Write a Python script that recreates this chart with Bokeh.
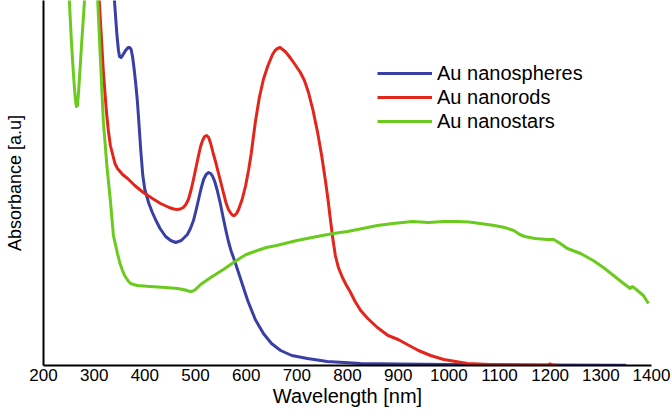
from bokeh.plotting import figure
from bokeh.models import Range1d, FixedTicker, Legend, LegendItem
from bokeh.embed import file_html
from bokeh.resources import INLINE

# Wavelength (nm) and absorbance (a.u.)
spheres_nm = [335, 340, 345, 348, 350, 353, 356, 362, 367, 370, 373, 376, 379, 382, 385, 388, 392,
              396, 400, 408, 414, 421, 430, 441, 451, 461, 472, 484, 490, 496, 501, 506, 511, 516,
              521, 526, 530, 534, 538, 543, 549, 555, 560, 565, 570, 579, 590, 603, 618, 634, 650,
              668, 690, 721, 760, 826, 900, 1000, 1100, 1200, 1350]
spheres_abs = [4.0, 3.65, 3.3, 3.15, 3.09, 3.08, 3.1, 3.15, 3.18, 3.18, 3.16, 3.08, 2.96, 2.82,
               2.66, 2.45, 2.15, 1.9, 1.76, 1.62, 1.54, 1.46, 1.37, 1.29, 1.25, 1.23, 1.25, 1.31,
               1.37, 1.45, 1.55, 1.66, 1.77, 1.86, 1.91, 1.93, 1.92, 1.89, 1.84, 1.75, 1.62, 1.47,
               1.35, 1.24, 1.15, 1.02, 0.85, 0.65, 0.46, 0.32, 0.22, 0.15, 0.1, 0.07, 0.04, 0.02,
               0.015, 0.01, 0.007, 0.005, 0.003]

rods_nm = [305, 310, 318, 324, 328, 332, 336, 341, 346, 356, 366, 380, 397, 415, 431, 448, 457, 464,
           470, 476, 481, 486, 491, 496, 501, 506, 510, 514, 518, 522, 526, 530, 535, 540, 545, 550,
           555, 560, 565, 570, 574, 577, 581, 585, 592, 599, 605, 610, 618, 626, 634, 643, 652, 657,
           662, 667, 672, 677, 682, 688, 695, 707, 715, 723, 732, 741, 749, 757, 762, 766, 771, 776,
           782, 790, 797, 805, 815, 826, 840, 859, 880, 900, 918, 940, 964, 990, 1037, 1080, 1116,
           1150, 1195, 1200, 1205, 1215]
rods_abs = [4.0, 3.65, 2.95, 2.55, 2.35, 2.2, 2.12, 2.02, 1.97, 1.91, 1.87, 1.8, 1.73, 1.67, 1.62,
            1.58, 1.565, 1.56, 1.565, 1.58, 1.61, 1.66, 1.75, 1.86, 1.98, 2.1, 2.19, 2.25, 2.29,
            2.3, 2.28, 2.22, 2.12, 2.03, 1.93, 1.83, 1.73, 1.63, 1.56, 1.52, 1.5, 1.5, 1.52, 1.56,
            1.66, 1.8, 1.96, 2.12, 2.43, 2.68, 2.86, 3.0, 3.11, 3.15, 3.17, 3.18, 3.16, 3.14, 3.11,
            3.07, 3.02, 2.93, 2.85, 2.73, 2.55, 2.33, 2.1, 1.83, 1.64, 1.47, 1.27, 1.1, 0.98, 0.88,
            0.81, 0.74, 0.64, 0.55, 0.47, 0.38, 0.3, 0.26, 0.21, 0.15, 0.1, 0.06, 0.02, 0.01, 0.005,
            0.003, 0.004, 0.015, 0.004, 0.003]

stars_nm = [246, 251, 255, 258, 261, 263, 265, 267, 269, 272, 275, 281, 290, 300, 307, 312, 318, 325,
            332, 338, 346, 351, 356, 360, 364, 368, 372, 378, 385, 410, 441, 465, 480, 486, 490, 495,
            500, 510, 530, 555, 575, 590, 600, 611, 622, 640, 660, 700, 740, 772, 800, 830, 859, 890,
            928, 960, 990, 1017, 1040, 1062, 1090, 1110, 1128, 1140, 1150, 1170, 1195, 1207, 1220,
            1234, 1260, 1285, 1305, 1325, 1345, 1358, 1362, 1370, 1384, 1394]
stars_abs = [4.2, 3.65, 3.25, 3.0, 2.78, 2.66, 2.59, 2.6, 2.72, 2.95, 3.2, 3.65, 4.3, 4.2, 3.65,
             3.1, 2.45, 2.0, 1.65, 1.3, 1.12, 1.02, 0.95, 0.9, 0.87, 0.84, 0.82, 0.81, 0.8, 0.79,
             0.78, 0.77, 0.755, 0.745, 0.74, 0.745, 0.76, 0.81, 0.88, 0.96, 1.03, 1.08, 1.11, 1.13,
             1.15, 1.18, 1.2, 1.25, 1.29, 1.32, 1.34, 1.37, 1.4, 1.42, 1.44, 1.43, 1.44, 1.44, 1.435,
             1.42, 1.4, 1.38, 1.35, 1.31, 1.29, 1.27, 1.26, 1.26, 1.22, 1.17, 1.12, 1.05, 0.98, 0.9,
             0.82, 0.77, 0.79, 0.76, 0.7, 0.62]

x_ticks = [200, 300, 400, 500, 600, 700, 800, 900, 1000, 1100, 1200, 1300, 1400]
series_names = ["Au nanospheres", "Au nanorods", "Au nanostars"]

FONT = "Liberation Sans"

p = figure(frame_width=608, frame_height=365, output_backend="svg", toolbar_location=None,
           x_range=Range1d(200, 1400), y_range=Range1d(0, 3.65),
           min_border_left=43, min_border_top=0, min_border_right=21, min_border_bottom=0)
p.outline_line_color = None
p.xgrid.visible = False
p.ygrid.visible = False
p.background_fill_color = "white"

blue = "#3a3fa6"
red = "#e3261c"
green = "#6acb1e"

r1 = p.line(spheres_nm, spheres_abs, line_color=blue, line_width=3, line_join="round")
r2 = p.line(rods_nm, rods_abs, line_color=red, line_width=3, line_join="round")
r3 = p.line(stars_nm, stars_abs, line_color=green, line_width=3, line_join="round")

# x axis
p.xaxis.ticker = FixedTicker(ticks=x_ticks)
p.xaxis.axis_label = "Wavelength [nm]"
p.xaxis.axis_line_color = "black"
p.xaxis.axis_line_width = 2
p.xaxis.major_tick_line_color = None
p.xaxis.minor_tick_line_color = None
p.xaxis.major_tick_out = 0
p.xaxis.major_tick_in = 0
p.xaxis.major_label_standoff = 3
p.xaxis.major_label_text_font = FONT
p.xaxis.major_label_text_font_size = "17px"
p.xaxis.major_label_text_color = "black"
p.xaxis.axis_label_text_font = FONT
p.xaxis.axis_label_text_font_size = "20px"
p.xaxis.axis_label_text_font_style = "normal"
p.xaxis.axis_label_text_color = "black"
p.xaxis.axis_label_standoff = 1

# y axis
p.yaxis.ticker = FixedTicker(ticks=[])
p.yaxis.axis_label = "Absorbance [a.u]"
p.yaxis.axis_line_color = "black"
p.yaxis.axis_line_width = 2
p.yaxis.major_tick_line_color = None
p.yaxis.minor_tick_line_color = None
p.yaxis.major_tick_out = 0
p.yaxis.major_label_text_font_size = "0px"
p.yaxis.axis_label_text_font = FONT
p.yaxis.axis_label_text_font_size = "18px"
p.yaxis.axis_label_text_font_style = "normal"
p.yaxis.axis_label_text_color = "black"
p.yaxis.axis_label_standoff = 19

legend = Legend(items=[LegendItem(label=series_names[0], renderers=[r1]),
                       LegendItem(label=series_names[1], renderers=[r2]),
                       LegendItem(label=series_names[2], renderers=[r3])],
                location=(334, 232))
legend.border_line_color = None
legend.background_fill_alpha = 0
legend.padding = 0
legend.margin = 0
legend.spacing = 0
legend.glyph_width = 55
legend.glyph_height = 24
legend.label_height = 24
legend.label_standoff = 5
legend.label_text_font = FONT
legend.label_text_font_size = "20px"
legend.label_text_color = "black"
p.add_layout(legend, "center")

open("out.html", "w").write(file_html(p, INLINE))
